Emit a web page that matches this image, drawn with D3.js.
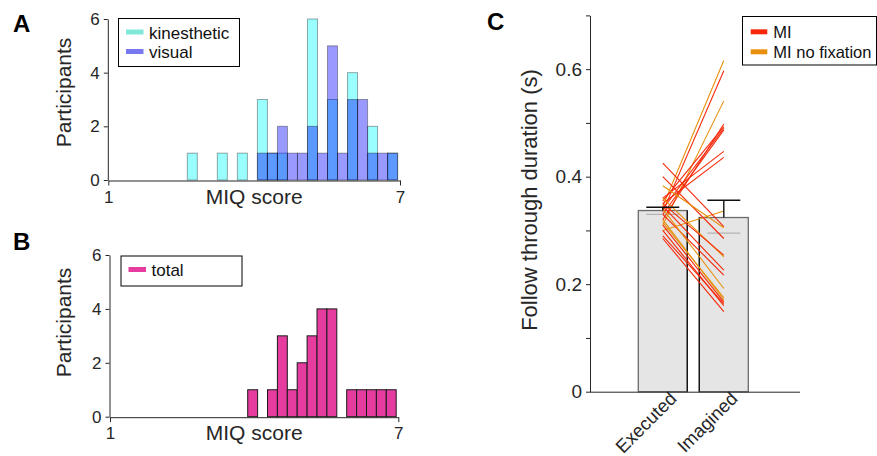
<!DOCTYPE html>
<html><head><meta charset="utf-8">
<script src="https://cdn.jsdelivr.net/npm/d3@7"></script>
<style>
body{margin:0;background:#fff;}
svg{display:block;font-family:"Liberation Sans",Arial,Helvetica,sans-serif;}
</style></head><body>
<svg id="fig" width="877" height="456"></svg>
<script>
// ---- MIQ score histograms (participants per bin) ----
const miqBinWidth = 0.206;
const subscaleBinStart = 2.625;
const kinestheticCounts = [1,0,0,1,0,1,0,3,1,1,0,0,6,0,3,0,4,0,2,0,1];
const visualCounts      = [0,0,0,0,0,0,0,1,1,2,1,1,2,1,5,1,3,3,1,1,1];
const totalBinStart = 3.866;
const totalCounts = [1,0,1,3,1,2,3,4,4,0,1,1,1,1,1];
const miqTicks = [1, 7];
const countTicks = [0, 2, 4, 6];

// ---- Follow-through duration (s) ----
const conditions = ["Executed", "Imagined"];
const barMeans = [0.337, 0.324];
const barSem = [0.006, 0.032];
const barMedians = [0.330, 0.295];
const executedDur = [0.345,0.335,0.310,0.320,0.355,0.340,0.330,0.360,0.350,0.300,0.425,0.400,
                     0.383,0.360,0.350,0.345,0.330,0.340,0.320,0.310,0.290,0.285,0.300,0.315];
const imaginedDur = [0.616,0.597,0.541,0.498,0.493,0.490,0.487,0.447,0.436,0.336,0.307,0.285,
                     0.305,0.251,0.254,0.226,0.217,0.192,0.171,0.167,0.164,0.149,0.160,0.175];
const groupOf     = ["MI no fixation","MI","MI no fixation","MI","MI","MI","MI","MI","MI","MI no fixation","MI","MI",
                     "MI no fixation","MI no fixation","MI","MI","MI","MI no fixation","MI no fixation","MI","MI","MI","MI","MI no fixation"];
const groups = ["MI", "MI no fixation"];
const durationTicks = [0, 0.1, 0.2, 0.3, 0.4, 0.5, 0.6, 0.7];
const durationLabels = [0, 0.2, 0.4, 0.6];

const ink = "#262626";
const groupColor = d3.scaleOrdinal(groups, ["#f7280a", "#e8900c"]);

const svg = d3.select("#fig");

function styleAxis(g, size) {
  g.selectAll("path.domain").attr("stroke", ink).attr("stroke-width", 1);
  g.selectAll(".tick line").attr("stroke", ink);
  g.selectAll(".tick text").attr("fill", ink).attr("font-size", size)
    .attr("font-family", "Liberation Sans, Arial, sans-serif");
}

function histPanel(opt) {
  const x = d3.scaleLinear([1, 7], opt.xr);
  const y = d3.scaleLinear([0, 6], opt.yr);
  const g = svg.append("g");

  opt.layers.forEach(layer => {
    const bins = layer.counts.map((c, i) => ({c, x0: opt.start + i * miqBinWidth}))
      .filter(d => d.c > 0);
    g.append("g").selectAll("rect").data(bins).join("rect")
      .attr("x", d => x(d.x0))
      .attr("width", d => x(d.x0 + miqBinWidth) - x(d.x0))
      .attr("y", d => y(d.c))
      .attr("height", d => y(0) - y(d.c))
      .attr("fill", layer.fill)
      .attr("fill-opacity", layer.opacity)
      .attr("stroke", layer.stroke)
      .attr("stroke-width", 1);
  });

  const ax = g.append("g").attr("transform", `translate(${opt.xr[0] - 0.5},0)`)
    .call(d3.axisLeft(y).tickValues(countTicks).tickFormat(d3.format("d"))
      .tickSize(4).tickSizeOuter(0).tickPadding(4));
  styleAxis(ax, 17);
  const bx = g.append("g").attr("transform", `translate(0,${opt.yr[0] + 0.5})`)
    .call(d3.axisBottom(x).tickValues(miqTicks).tickFormat(d3.format("d"))
      .tickSize(5).tickSizeOuter(0).tickPadding(5));
  styleAxis(bx, 17);

  g.append("text").attr("x", (opt.xr[0] + opt.xr[1]) / 2).attr("y", opt.yr[0] + 23.5)
    .attr("text-anchor", "middle").attr("font-size", 21).attr("fill", ink).text("MIQ score");
  g.append("text")
    .attr("transform", `translate(71,${opt.labelY}) rotate(-90)`)
    .attr("text-anchor", "middle").attr("font-size", 21).attr("fill", ink).text("Participants");
  g.append("text").attr("x", 13).attr("y", opt.panelY)
    .attr("font-size", 24).attr("font-weight", "bold").attr("fill", "#000").text(opt.panel);

  // legend
  const lg = g.append("g");
  const b = opt.legendBox;
  lg.append("rect").attr("x", b[0] + 0.5).attr("y", b[1] + 0.5)
    .attr("width", b[2] - b[0]).attr("height", b[3] - b[1])
    .attr("fill", "#fff").attr("stroke", "#000").attr("stroke-width", 1);
  opt.legend.forEach((e, i) => {
    const yy = b[1] + 20.5 + i * 19.5;
    lg.append("rect").attr("x", b[0] + 8).attr("y", yy - 6.5 - 2.5)
      .attr("width", 17.5).attr("height", 5).attr("fill", e.swatch);
    lg.append("text").attr("x", b[0] + 31).attr("y", yy)
      .attr("font-size", 17).attr("fill", "#111").text(e.name);
  });
}

histPanel({
  panel: "A", panelY: 32, labelY: 92.5,
  xr: [108.3, 400], yr: [180, 19], start: subscaleBinStart,
  layers: [
    {counts: kinestheticCounts, fill: "#00ffff", opacity: 0.4, stroke: "rgba(0,0,0,0.35)"},
    {counts: visualCounts, fill: "#0000ff", opacity: 0.4, stroke: "rgba(0,0,0,0.35)"}
  ],
  legendBox: [118, 18, 239, 66],
  legend: [{name: "kinesthetic", swatch: "#80e8d8"}, {name: "visual", swatch: "#7878f0"}]
});

histPanel({
  panel: "B", panelY: 250, labelY: 322.5,
  xr: [110, 398.3], yr: [416.7, 255], start: totalBinStart,
  layers: [
    {counts: totalCounts, fill: "#e63ca0", opacity: 1, stroke: "#1a1a1a"}
  ],
  legendBox: [120.5, 255.5, 241.5, 285.5],
  legend: [{name: "total", swatch: "#e63ca0"}]
});

// ---- Panel C ----
(function () {
  const x = d3.scaleBand(conditions, [638.3, 748.3]).paddingInner(0.197).paddingOuter(0);
  const y = d3.scaleLinear([0, 0.7], [391.7, 15.4]);
  const cx = c => x(c) + x.bandwidth() / 2;
  const g = svg.append("g");

  // bars
  g.selectAll("rect.bar").data(conditions).join("rect").attr("class", "bar")
    .attr("x", d => x(d)).attr("width", x.bandwidth())
    .attr("y", (d, i) => y(barMeans[i])).attr("height", (d, i) => y(0) - y(barMeans[i]))
    .attr("fill", "#e5e5e5").attr("stroke", "#6a6a6a").attr("stroke-width", 1.3);
  // dark inner edges of the two bars
  g.append("line").attr("x1", x("Executed") + x.bandwidth()).attr("x2", x("Executed") + x.bandwidth())
    .attr("y1", y(barMeans[0])).attr("y2", y(0)).attr("stroke", "#111").attr("stroke-width", 1.3);
  g.append("line").attr("x1", x("Imagined")).attr("x2", x("Imagined"))
    .attr("y1", y(barMeans[1])).attr("y2", y(0)).attr("stroke", "#111").attr("stroke-width", 1.3);

  // median markers
  g.selectAll("line.med").data(conditions).join("line").attr("class", "med")
    .attr("x1", d => cx(d) - 16.5).attr("x2", d => cx(d) + 16.5)
    .attr("y1", (d, i) => y(barMedians[i])).attr("y2", (d, i) => y(barMedians[i]))
    .attr("stroke", "#a8a8a8").attr("stroke-width", 1);

  // individual participants
  g.append("g").selectAll("line").data(executedDur).join("line")
    .attr("x1", cx("Executed")).attr("x2", cx("Imagined"))
    .attr("y1", d => y(d)).attr("y2", (d, i) => y(imaginedDur[i]))
    .attr("stroke", (d, i) => groupColor(groupOf[i])).attr("stroke-width", 1.1);

  // error bars (upper SEM)
  conditions.forEach((c, i) => {
    const top = y(barMeans[i] + barSem[i]);
    g.append("line").attr("x1", cx(c)).attr("x2", cx(c))
      .attr("y1", y(barMeans[i])).attr("y2", top).attr("stroke", "#111").attr("stroke-width", 1.4);
    g.append("line").attr("x1", cx(c) - 16.5).attr("x2", cx(c) + 16.5)
      .attr("y1", top).attr("y2", top).attr("stroke", "#111").attr("stroke-width", 1.4);
  });

  // axes
  const ay = g.append("g").attr("transform", "translate(590,0)")
    .call(d3.axisLeft(y).tickValues(durationTicks).tickSize(4).tickSizeOuter(0).tickPadding(4)
      .tickFormat(v => durationLabels.some(l => Math.abs(l - v) < 1e-9) ? String(+v.toFixed(1)) : ""));
  styleAxis(ay, 19);
  g.append("line").attr("x1", 590).attr("x2", 800).attr("y1", y(0) + 0.5).attr("y2", y(0) + 0.5)
    .attr("stroke", ink).attr("stroke-width", 1);

  g.selectAll("text.cat").data(conditions).join("text").attr("class", "cat")
    .attr("transform", d => `translate(${cx(d) + 15},${y(0) + 8}) rotate(-45)`)
    .attr("text-anchor", "end").attr("font-size", 18.5).attr("fill", ink).text(d => d);

  g.append("text").attr("transform", "translate(537,200) rotate(-90)")
    .attr("text-anchor", "middle").attr("font-size", 22).attr("fill", ink).text("Follow through duration (s)");
  g.append("text").attr("x", 487).attr("y", 30)
    .attr("font-size", 24).attr("font-weight", "bold").attr("fill", "#000").text("C");

  // legend
  const lg = g.append("g");
  lg.append("rect").attr("x", 742.5).attr("y", 16.5).attr("width", 134).attr("height", 48.5)
    .attr("fill", "#fff").attr("stroke", "#000").attr("stroke-width", 1);
  groups.forEach((grp, i) => {
    const yy = 38.3 + i * 20;
    lg.append("rect").attr("x", 750.7).attr("y", yy - 6.5 - 2.5).attr("width", 16.6).attr("height", 5)
      .attr("fill", groupColor(grp));
    lg.append("text").attr("x", 773.3).attr("y", yy).attr("font-size", 16.5).attr("fill", "#111").text(grp);
  });
})();
</script>
</body></html>
